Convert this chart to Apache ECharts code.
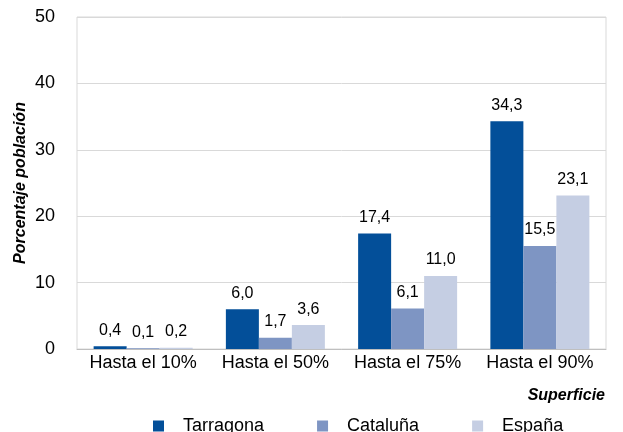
<!DOCTYPE html>
<html>
<head>
<meta charset="utf-8">
<script src="https://cdn.jsdelivr.net/npm/echarts@6/dist/echarts.min.js"></script>
<style>
  html, body { margin: 0; padding: 0; background: #fff; }
  #chart { width: 623px; height: 432px; }
</style>
</head>
<body>
<div id="chart"></div>
<script>
// categories and series
const categories = ['Hasta el 10%', 'Hasta el 50%', 'Hasta el 75%', 'Hasta el 90%']
const tarragona = [0.4, 6.0, 17.4, 34.3]
const cataluna = [0.1, 1.7, 6.1, 15.5]
const espana = [0.2, 3.6, 11.0, 23.1]
const seriesNames = ['Tarragona', 'Cataluña', 'España']
const colors = ['#034f99', '#7e95c3', '#c5cee3']

const font = "'Liberation Sans', Arial, sans-serif"

const chart = echarts.init(document.getElementById('chart'), null, { renderer: 'canvas' })

function barSeries(name, data, color) {
  return {
    name: name,
    type: 'bar',
    data: data,
    barWidth: 33,
    barGap: '0%',
    itemStyle: { color: color },
    label: {
      show: true,
      position: 'top',
      distance: 8,
      color: '#000',
      fontFamily: font,
      fontSize: 16,
      formatter: p => p.value.toFixed(1).replace('.', ',')
    }
  }
}

chart.setOption({
  animation: false,
  textStyle: { fontFamily: font },
  title: {
    text: 'Superficie',
    right: 13,
    top: 383,
    textStyle: { fontFamily: font, fontSize: 16, fontWeight: 'bold', fontStyle: 'italic', color: '#000' }
  },
  grid: {
    left: 77,
    right: 17,
    top: 17,
    bottom: 83,
    show: true,
    borderColor: '#d9d9d9',
    borderWidth: 1
  },
  legend: {
    left: 148,
    top: 412,
    itemWidth: 11,
    itemHeight: 11,
    itemGap: 53,
    icon: 'rect',
    textStyle: { fontFamily: font, fontSize: 18, color: '#000', padding: [0, 0, 0, 14] },
    data: seriesNames
  },
  xAxis: {
    type: 'category',
    data: categories,
    axisTick: { show: false },
    axisLine: { lineStyle: { color: '#bfbfbf' } },
    axisLabel: { color: '#000', fontFamily: font, fontSize: 18, margin: 5, interval: 0 }
  },
  yAxis: {
    type: 'value',
    min: 0,
    max: 50,
    interval: 10,
    name: 'Porcentaje población',
    nameLocation: 'middle',
    nameGap: 48,
    nameMoveOverlap: false,
    nameTextStyle: { fontFamily: font, fontSize: 16, fontWeight: 'bold', fontStyle: 'italic', color: '#000' },
    axisLine: { show: false },
    axisTick: { show: false },
    splitLine: { lineStyle: { color: '#d9d9d9' } },
    axisLabel: { color: '#000', fontFamily: font, fontSize: 18, margin: 22 }
  },
  series: [
    barSeries(seriesNames[0], tarragona, colors[0]),
    barSeries(seriesNames[1], cataluna, colors[1]),
    barSeries(seriesNames[2], espana, colors[2])
  ]
})
</script>
</body>
</html>
